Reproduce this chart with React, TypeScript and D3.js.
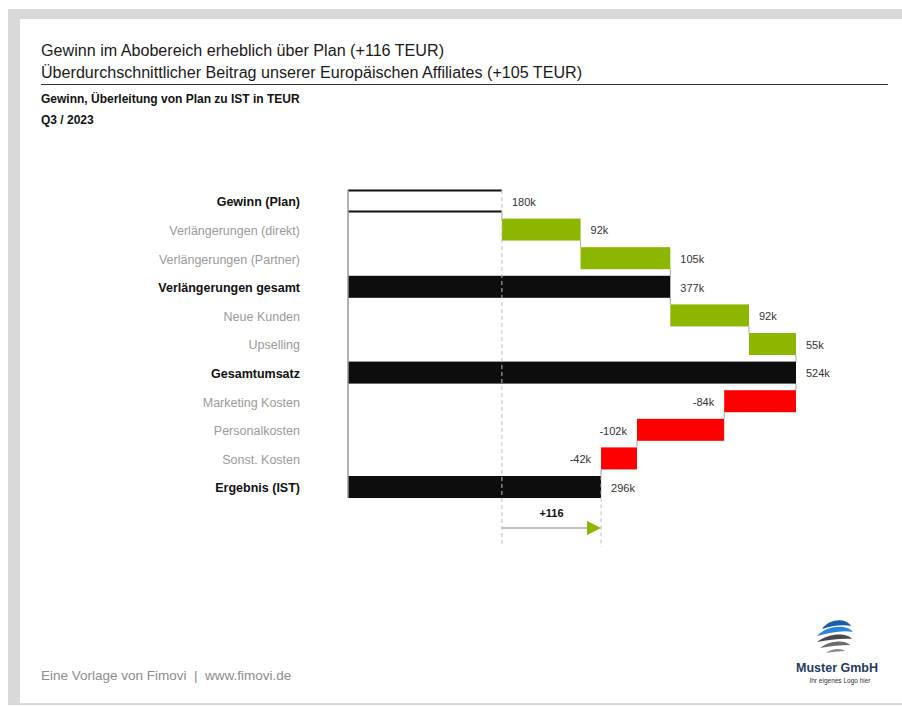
import React from "react";
import * as d3 from "d3";

const categories = [
  "Gewinn (Plan)",
  "Verlängerungen (direkt)",
  "Verlängerungen (Partner)",
  "Verlängerungen gesamt",
  "Neue Kunden",
  "Upselling",
  "Gesamtumsatz",
  "Marketing Kosten",
  "Personalkosten",
  "Sonst. Kosten",
  "Ergebnis (IST)",
];
const values = [180, 92, 105, 377, 92, 55, 524, -84, -102, -42, 296];
const kinds = ["plan", "delta", "delta", "total", "delta", "delta", "total", "delta", "delta", "delta", "total"];
const valueLabels = ["180k", "92k", "105k", "377k", "92k", "55k", "524k", "-84k", "-102k", "-42k", "296k"];
const deltaLabel = "+116";

const titleLines = [
  "Gewinn im Abobereich erheblich über Plan (+116 TEUR)",
  "Überdurchschnittlicher Beitrag unserer Europäischen Affiliates (+105 TEUR)",
];
const subtitle = "Gewinn, Überleitung von Plan zu IST in TEUR";
const period = "Q3 / 2023";
const footer = "Eine Vorlage von Fimovi  |  www.fimovi.de";

const GREEN = "#8db600";
const RED = "#ff0000";
const FONT = "'Liberation Sans', Arial, sans-serif";

export default function App() {
  const W = 902, H = 706;
  const x = d3.scaleLinear().domain([0, 524]).range([348, 796]);
  const y = d3.scaleBand<string>().domain(categories).range([183.4, 504.6]).padding(0.23);
  const bw = y.bandwidth();

  let cum = 0;
  const bars = categories.map((c, i) => {
    const v = values[i];
    const k = kinds[i];
    let start: number, end: number;
    if (k === "delta") {
      start = cum;
      end = cum + v;
      cum = end;
    } else {
      start = 0;
      end = v;
      cum = v;
    }
    return { c, v, k, start, end, label: valueLabels[i] };
  });

  const planEnd = x(values[0]);
  const istEnd = x(values[values.length - 1]);
  const arrowY = 528;

  return (
    <svg width={W} height={H} style={{ position: "absolute", left: 0, top: 0 }} fontFamily={FONT}>
      <rect x={0} y={0} width={W} height={H} fill="#fff" />
      <rect x={8} y={9} width={W - 8} height={696} fill="#d9d9d9" />
      <rect x={20} y={19} width={W - 20} height={684} fill="#fff" />

      {/* Titles */}
      <text x={41} y={56} fontSize={16} fill="#1a1a1a" textLength={403} lengthAdjust="spacingAndGlyphs">{titleLines[0]}</text>
      <text x={41} y={78} fontSize={16} fill="#1a1a1a" textLength={541} lengthAdjust="spacingAndGlyphs">{titleLines[1]}</text>
      <line x1={41} x2={888} y1={84.5} y2={84.5} stroke="#333" strokeWidth={1} />
      <text x={41} y={103} fontSize={12} fontWeight="bold" fill="#111">{subtitle}</text>
      <text x={41} y={124} fontSize={12} fontWeight="bold" fill="#111">{period}</text>

      {/* Category labels */}
      {bars.map((b) => (
        <text
          key={"l" + b.c}
          x={300}
          y={(y(b.c) as number) + bw / 2 + 1}
          dy="0.35em"
          textAnchor="end"
          fontSize={12.5}
          fontWeight={b.k === "delta" ? "normal" : "bold"}
          fill={b.k === "delta" ? "#9a9a9a" : "#111"}
        >
          {b.c}
        </text>
      ))}

      {/* Connectors */}
      {bars.slice(0, -1).map((b, i) => {
        const nb = bars[i + 1];
        const yy1 = (y(b.c) as number) + bw;
        const yy2 = y(nb.c) as number;
        return (
          <line key={"c" + i} x1={x(b.end)} x2={x(b.end)} y1={yy1} y2={yy2} stroke="#a6a6a6" strokeWidth={1} />
        );
      })}

      {/* Bars */}
      {bars.map((b) => {
        const yy = y(b.c) as number;
        const x0 = x(Math.min(b.start, b.end));
        const x1 = x(Math.max(b.start, b.end));
        if (b.k === "plan") {
          return (
            <g key={"b" + b.c}>
              <rect x={x0} y={yy} width={x1 - x0} height={bw} fill="#fff" />
              <line x1={x0} x2={x1} y1={yy + 0.5} y2={yy + 0.5} stroke="#111" strokeWidth={2} />
              <line x1={x0} x2={x1} y1={yy + bw - 0.5} y2={yy + bw - 0.5} stroke="#111" strokeWidth={2} />
            </g>
          );
        }
        const fill = b.k === "total" ? "#0d0d0d" : b.v >= 0 ? GREEN : RED;
        return <rect key={"b" + b.c} x={x0} y={yy} width={x1 - x0} height={bw} fill={fill} />;
      })}

      {/* Axis line at zero */}
      <line
        x1={x(0)}
        x2={x(0)}
        y1={y(categories[0]) as number}
        y2={(y(categories[categories.length - 1]) as number) + bw}
        stroke="#999"
        strokeWidth={1.5}
      />

      {/* Dashed reference lines */}
      <line x1={planEnd} x2={planEnd} y1={y(categories[0]) as number} y2={547} stroke="#c0c0c0" strokeWidth={1} strokeDasharray="4,3" />
      <line
        x1={istEnd}
        x2={istEnd}
        y1={(y(categories[categories.length - 2]) as number) + bw}
        y2={547}
        stroke="#c0c0c0"
        strokeWidth={1}
        strokeDasharray="4,3"
      />

      {/* Value labels */}
      {bars.map((b) => {
        const yy = (y(b.c) as number) + bw / 2 + 1;
        const neg = b.v < 0;
        const xx = neg ? x(b.end) - 10 : x(b.end) + 10;
        return (
          <text
            key={"v" + b.c}
            x={xx}
            y={yy}
            dy="0.35em"
            textAnchor={neg ? "end" : "start"}
            fontSize={11}
            fill="#333"
          >
            {b.label}
          </text>
        );
      })}

      {/* Delta arrow */}
      <line x1={planEnd} x2={istEnd - 12} y1={arrowY} y2={arrowY} stroke="#bfbfbf" strokeWidth={2} />
      <path d={`M${istEnd - 14},${arrowY - 7} L${istEnd},${arrowY} L${istEnd - 14},${arrowY + 7} Z`} fill={GREEN} />
      <text x={(planEnd + istEnd) / 2} y={517} textAnchor="middle" fontSize={11} fontWeight="bold" fill="#111">
        {deltaLabel}
      </text>

      {/* Footer */}
      <text x={41} y={680} fontSize={13.5} fill="#8c8c8c" xmlSpace="preserve">{footer}</text>

      {/* Logo */}
      <g transform="translate(834,637)">
        <path d="M-12,-8 C-4,-19 12,-19 17,-11 C8,-13 -3,-11 -12,-8 Z" fill="#1c5fa8" />
        <path d="M-17,-1 C-7,-12 13,-13 19,-5 C8,-7 -5,-4 -17,-1 Z" fill="#2b86d8" />
        <path d="M-17,5 C-6,-4 13,-5 18,2 C8,1 -5,3 -17,5 Z" fill="#4a4a4a" />
        <path d="M-14,11 C-4,3 12,3 16,8 C7,8 -4,9 -14,11 Z" fill="#6b6b6b" />
        <path d="M-8,16 C-2,11 8,11 11,14 C5,14 -2,15 -8,16 Z" fill="#8a8a8a" />
      </g>
      <text x={837} y={672} textAnchor="middle" fontSize={12.5} fontWeight="bold" fill="#1f3b63">Muster GmbH</text>
      <text x={840} y={683} textAnchor="middle" fontSize={6.5} fill="#333">Ihr eigenes Logo hier</text>
    </svg>
  );
}
